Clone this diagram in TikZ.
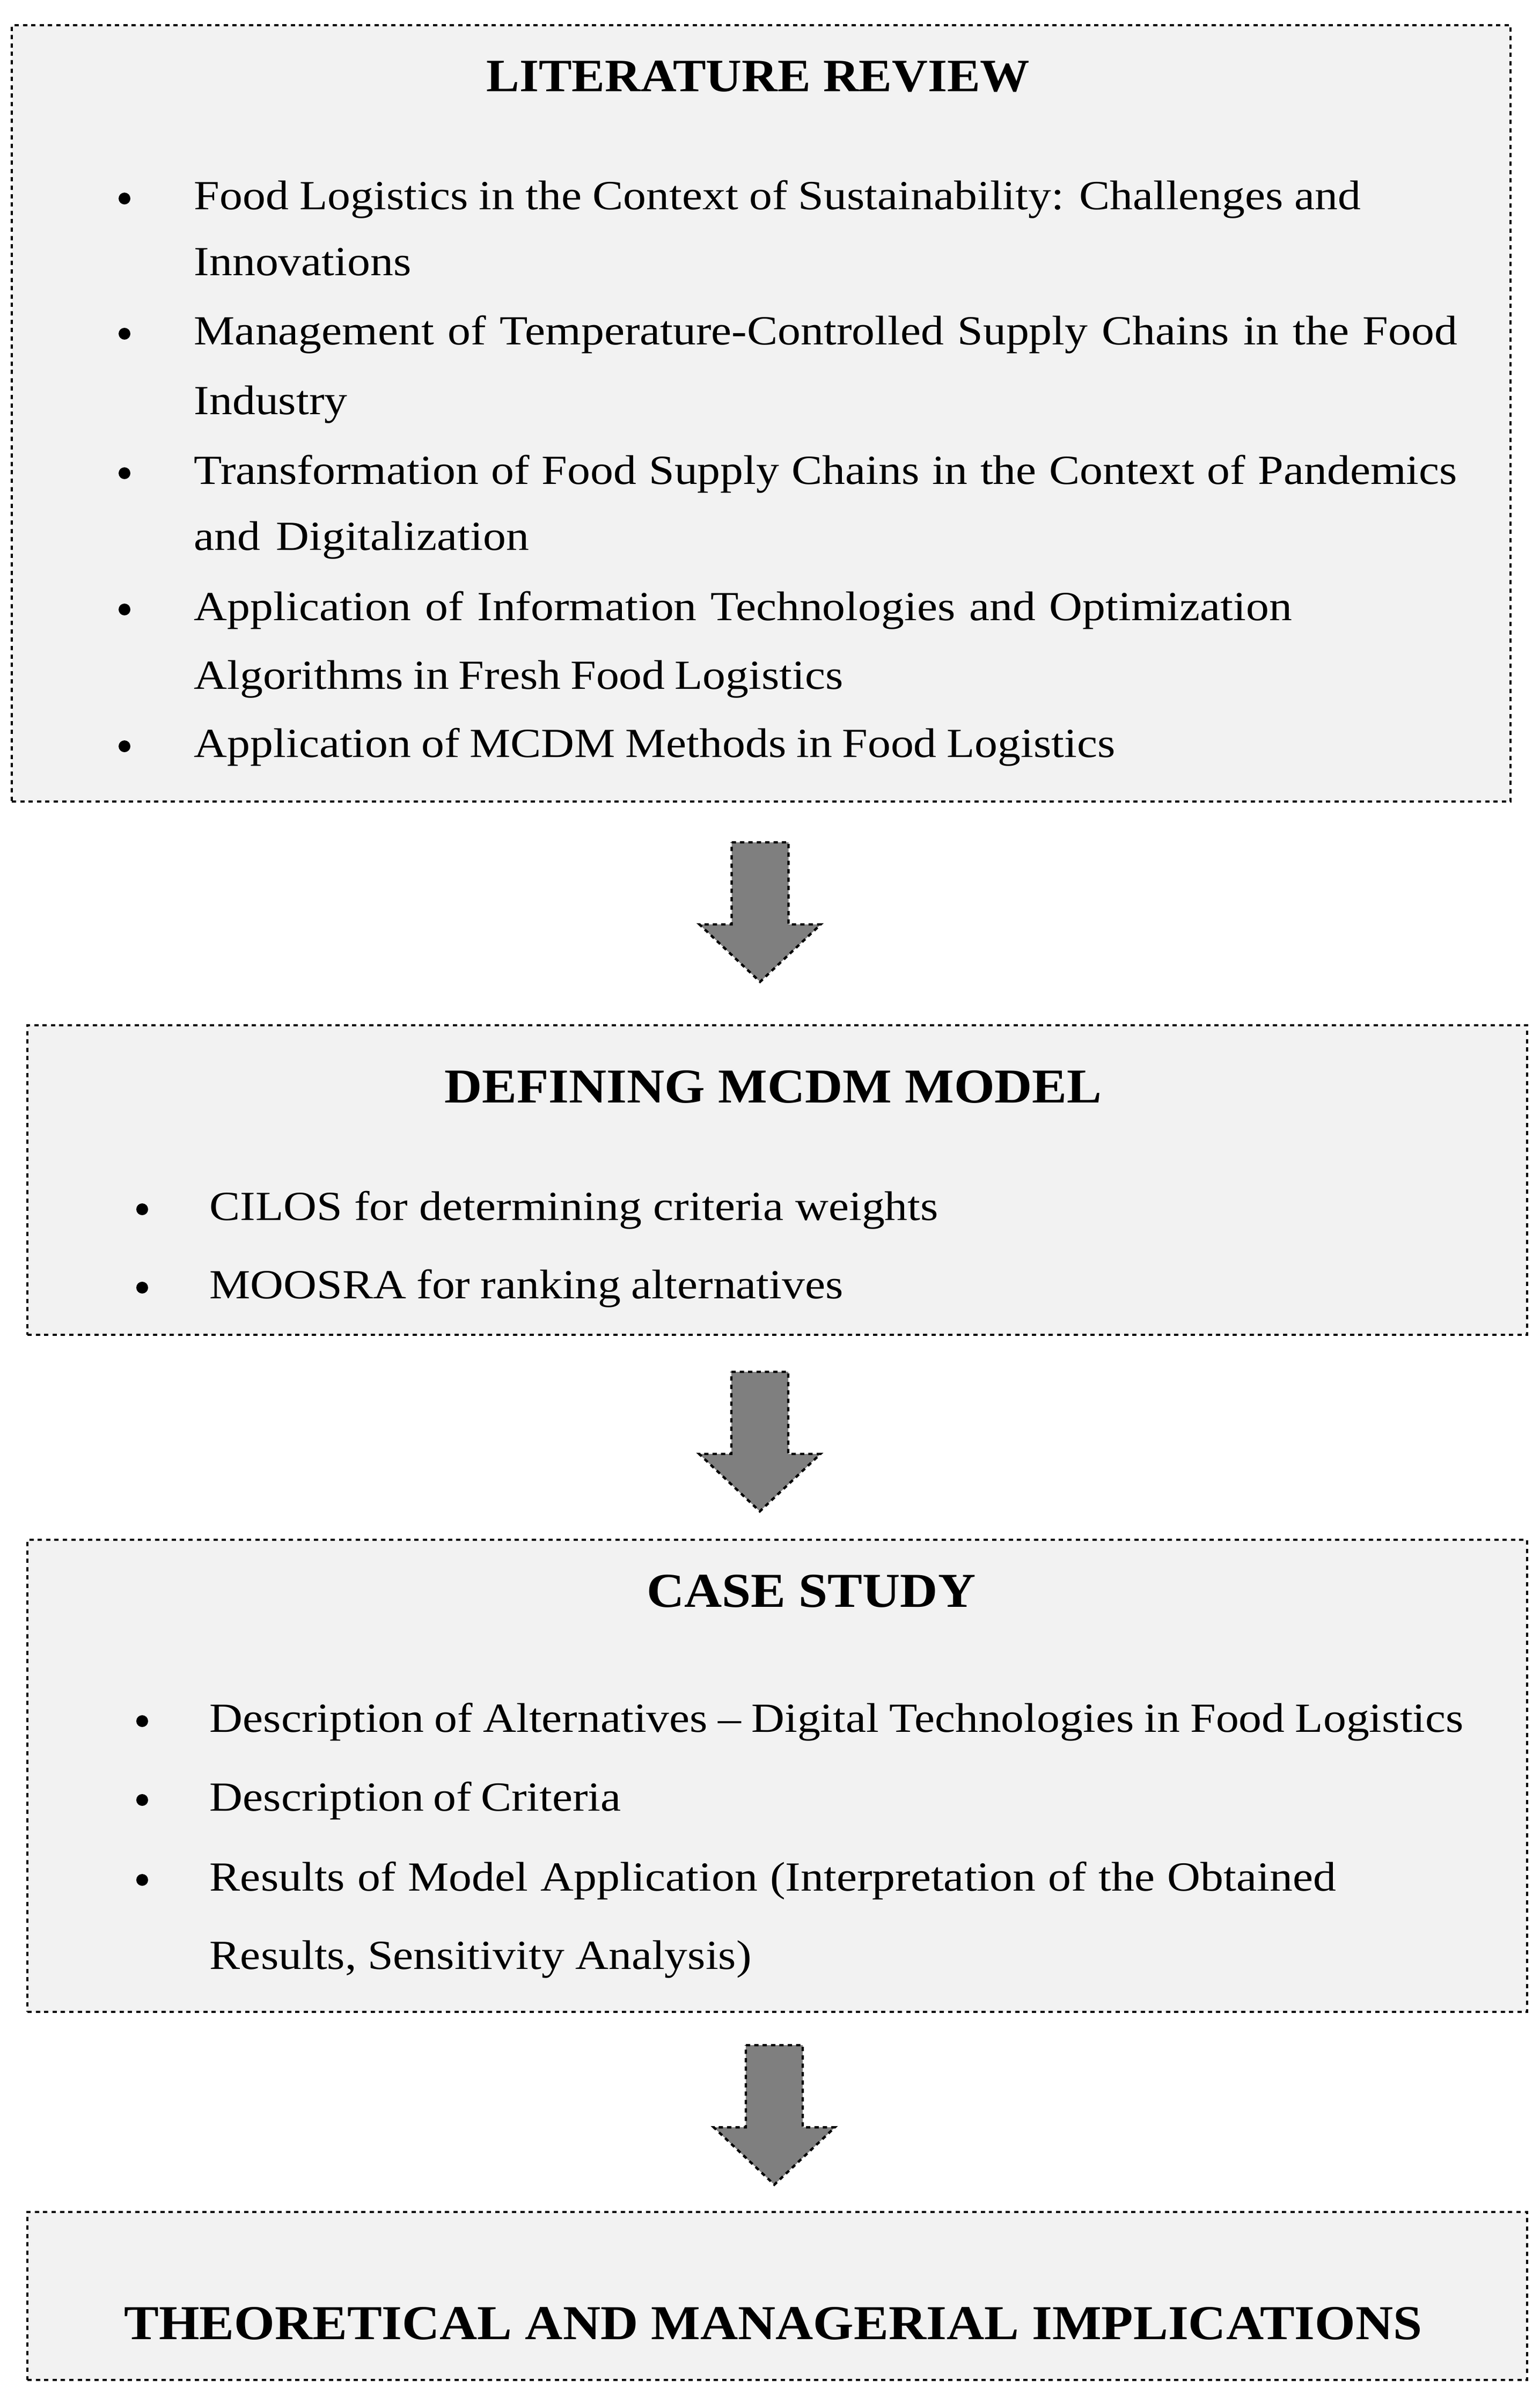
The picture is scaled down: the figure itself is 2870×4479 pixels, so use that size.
\documentclass[tikz,border=0pt]{standalone}
\usepackage{fontspec}
\setmainfont[FakeStretch=1.07]{Liberation Serif}
\newfontfamily\bodyfont[FakeStretch=1.11,Ligatures=TeX]{Liberation Serif}
\newcommand\fitline[2]{\makebox[#1pt][s]{#2}}
\definecolor{boxgray}{HTML}{F2F2F2}
\definecolor{arrowgray}{HTML}{7F7F7F}
\begin{document}
\begin{tikzpicture}[x=0.25pt,y=-0.25pt,
  box/.style={draw=black, fill=boxgray, line width=1.1pt, dash pattern=on 2pt off 1.9pt, rectangle, inner sep=0pt},
  body/.style={anchor=base west, inner sep=0pt, font=\bodyfont\fontsize{19.3}{22}\selectfont},
  ttl/.style={anchor=base, inner sep=0pt, font=\fontsize{22.7}{26}\selectfont\bfseries},
  bul/.style={circle, fill=black, inner sep=0pt, minimum size=5.5pt},
  arrowstyle/.style={fill=arrowgray, draw=black, line width=1.1pt, dash pattern=on 2pt off 1.9pt},
  blockarrow/.pic={\filldraw[arrowstyle] (-53,0) -- (53,0) -- (53,153) -- (113,153) -- (0,260) -- (-113,153) -- (-53,153) -- cycle;}
]
\useasboundingbox (0,0) rectangle (2870,4479);

% boxes
\node[box, minimum width=698.25pt, minimum height=361.75pt] (b1) at (1418.5,770.5) {};
\node[box, minimum width=698.75pt, minimum height=144.25pt] (b2) at (1448.5,2199.5) {};
\node[box, minimum width=698.75pt, minimum height=220pt] (b3) at (1448.5,3310) {};
\node[box, minimum width=698.75pt, minimum height=78.25pt] (b4) at (1448.5,4279.5) {};

% arrows
\coordinate (a1) at (1416.5,1570);
\coordinate (a2) at (1416,2557);
\coordinate (a3) at (1443,3812);
\pic at (a1) {blockarrow};
\pic at (a2) {blockarrow};
\pic at (a3) {blockarrow};

% box 1
\node[ttl, font=\fontsize{21.6}{26}\selectfont\bfseries] (t1) at (1413,170) {LITERATURE REVIEW};
\node[bul] (u11) at (232,370) {};
\node[bul] (u12) at (232,622) {};
\node[bul] (u13) at (232,882) {};
\node[bul] (u14) at (232,1136) {};
\node[bul] (u15) at (232,1391) {};
\node[body] (l11) at (361,390) {\fitline{543.5}{Food Logistics in the Context of Sustainability: Challenges and}};
\node[body] (l12) at (361,513) {Innovations};
\node[body] (l13) at (361,642) {\fitline{588.5}{Management of Temperature-Controlled Supply Chains in the Food}};
\node[body] (l14) at (361,772) {Industry};
\node[body] (l15) at (361,902) {\fitline{588.5}{Transformation of Food Supply Chains in the Context of Pandemics}};
\node[body] (l16) at (361,1025) {\fitline{156}{and Digitalization}};
\node[body] (l17) at (361,1156) {\fitline{511.5}{Application of Information Technologies and Optimization}};
\node[body] (l18) at (361,1284) {\fitline{302.5}{Algorithms in Fresh Food Logistics}};
\node[body] (l19) at (361,1411) {\fitline{429.25}{Application of MCDM Methods in Food Logistics}};

% box 2
\node[ttl] (t2) at (1441,2055) {DEFINING MCDM MODEL};
\node[bul] (u21) at (265,2254) {};
\node[bul] (u22) at (265,2400) {};
\node[body] (l21) at (390,2274) {\fitline{339.5}{CILOS for determining criteria weights}};
\node[body] (l22) at (390,2420) {\fitline{295.25}{MOOSRA for ranking alternatives}};

% box 3
\node[ttl] (t3) at (1512,2995) {CASE STUDY};
\node[bul] (u31) at (265,3208) {};
\node[bul] (u32) at (265,3355) {};
\node[bul] (u33) at (265,3504) {};
\node[body] (l31) at (390,3228) {\fitline{584.25}{Description of Alternatives – Digital Technologies in Food Logistics}};
\node[body] (l32) at (390,3375) {\fitline{191.75}{Description of Criteria}};
\node[body] (l33) at (390,3524) {\fitline{524.75}{Results of Model Application (Interpretation of the Obtained}};
\node[body] (l34) at (390,3670) {\fitline{252.5}{Results, Sensitivity Analysis)}};

% box 4
\node[ttl] (t4) at (1441,4360) {THEORETICAL AND MANAGERIAL IMPLICATIONS};
\end{tikzpicture}
\end{document}
